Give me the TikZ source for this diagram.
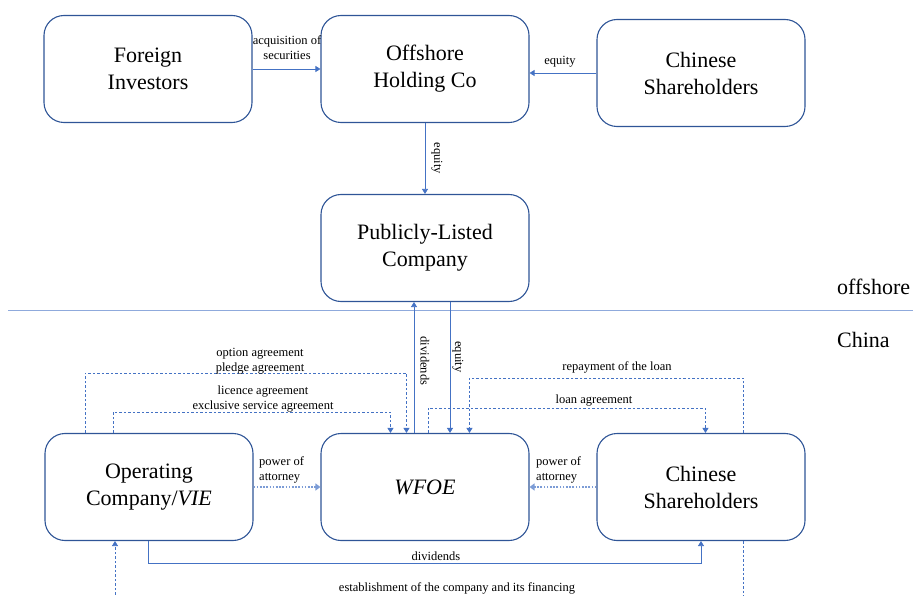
\documentclass[tikz,border=0pt]{standalone}
\usepackage{fontspec}
\setmainfont{Liberation Serif}
\usetikzlibrary{arrows.meta}

\definecolor{boxblue}{HTML}{2F5597}
\definecolor{lineblue}{HTML}{4472C4}
\definecolor{paleblue}{HTML}{8FAADC}

\begin{document}
\begin{tikzpicture}[x=1pt, y=-1pt,
		box_style/.style={rectangle,rounded corners=20pt,draw=boxblue,line width=1.1pt,fill=white,
			minimum width=208pt,minimum height=107pt,align=center,font=\fontsize{22}{27}\selectfont},
		edge_style/.style={draw=lineblue,line width=0.8pt,-{Triangle[width=6pt,length=5pt]}},
		dash_style/.style={edge_style,dash pattern=on 2.5pt off 2pt},
		dot_style/.style={draw=lineblue!70,line width=1.6pt,dash pattern=on 1.6pt off 1.6pt,
			-{Triangle[width=7pt,length=5pt]}},
		label_style/.style={align=center,inner sep=1pt,font=\fontsize{12.5}{15}\selectfont}]

		\useasboundingbox (0,0) rectangle (913,596);

		% offshore part
		\node[box_style] (fi) at (148,69) {Foreign\\Investors};
		\node[box_style] (ohc) at (425,69) {Offshore\\Holding Co};
		\node[box_style] (cs1) at (701,73) {Chinese\\Shareholders};
		\node[box_style] (plc) at (425,248) {Publicly-Listed\\Company};

		% China part
		\node[box_style] (vie) at (149,487) {Operating\\Company/\textit{VIE}};
		\node[box_style] (wfoe) at (425,487) {\textit{WFOE}};
		\node[box_style] (cs2) at (701,487) {Chinese\\Shareholders};

		% border
		\draw[draw=paleblue,line width=1pt] (8,310) -- (913,310);
		\node[anchor=west,inner sep=0pt,font=\fontsize{22}{27}\selectfont] (off) at (837,287) {offshore};
		\node[anchor=west,inner sep=0pt,font=\fontsize{22}{27}\selectfont] (cn) at (837,340) {China};

		\draw[edge_style] (fi.east) -- (ohc.west);
		\node[label_style] (l1) at (287,48) {acquisition of\\securities};
		\draw[edge_style] (cs1.west) -- (cs1.west -| ohc.east);
		\node[label_style] (l2) at (560,62) {equity};
		\draw[edge_style] (ohc.south) -- (plc.north)
			node[label_style,midway,xshift=12pt,rotate=-90] {equity};

		\draw[edge_style] ([xshift=-11pt]wfoe.north) -- ([xshift=-11pt]plc.south)
			node[label_style,pos=0.55,xshift=11pt,rotate=-90] {dividends};
		\draw[edge_style] ([xshift=25pt]plc.south) -- ([xshift=25pt]wfoe.north)
			node[label_style,pos=0.42,xshift=8pt,rotate=-90] {equity};

		\draw[dash_style] ([xshift=41pt]vie.north west) -- ++(0,-60) -| ([xshift=86pt]wfoe.north west);
		\node[label_style] (l3) at (260,361) {option agreement\\pledge agreement};
		\draw[dash_style] ([xshift=69pt]vie.north west) -- ++(0,-21) -| ([xshift=70pt]wfoe.north west);
		\node[label_style] (l4) at (263,399) {licence agreement\\exclusive service agreement};

		\draw[dash_style] ([xshift=108pt]wfoe.north west) -- ++(0,-25) -| ([xshift=109pt]cs2.north west);
		\node[label_style] (l5) at (594,401) {loan agreement};
		\draw[dash_style] ([xshift=147pt]cs2.north west) -- ++(0,-55) -| ([xshift=149pt]wfoe.north west);
		\node[label_style] (l6) at (617,367) {repayment of the loan};

		\draw[dot_style] (vie.east) -- (wfoe.west);
		\node[label_style,anchor=west,align=left] (l7) at (258,470) {power of\\attorney};
		\draw[dot_style] (cs2.west) -- (wfoe.east);
		\node[label_style,anchor=west,align=left] (l8) at (535,470) {power of\\attorney};

		\draw[edge_style] ([xshift=-1pt]vie.south) -- ++(0,22) -| (cs2.south);
		\node[label_style] (l9) at (436,556) {dividends};
		\draw[dash_style] ([xshift=42pt]cs2.south) -- ++(0,75) -| ([xshift=-34pt]vie.south);
		\node[label_style] (l10) at (457,588) {establishment of the company and its financing};

\end{tikzpicture}
\end{document}
